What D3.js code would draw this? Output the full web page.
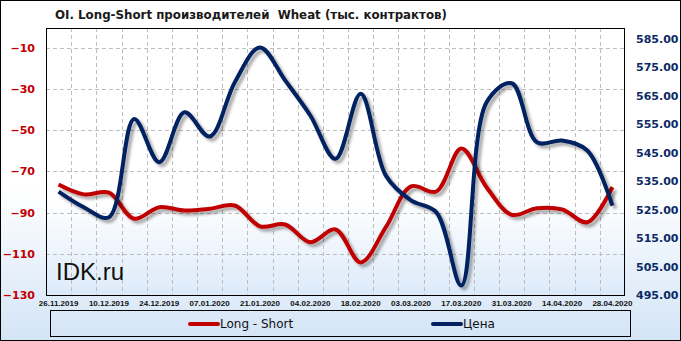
<!DOCTYPE html>
<html><head><meta charset="utf-8">
<script src="https://cdn.jsdelivr.net/npm/d3@7"></script>
<style>html,body{margin:0;padding:0;background:#fff;}svg{display:block;}</style>
</head><body>
<script>
const dates = ["26.11.2019","03.12.2019","10.12.2019","17.12.2019","24.12.2019","31.12.2019","07.01.2020","14.01.2020","21.01.2020","28.01.2020","04.02.2020","11.02.2020","18.02.2020","25.02.2020","03.03.2020","10.03.2020","17.03.2020","24.03.2020","31.03.2020","07.04.2020","14.04.2020","21.04.2020","28.04.2020"];
const longShort = [-76.4,-81.2,-80.4,-93,-87.4,-89,-88.2,-86.6,-96.7,-95.8,-104.4,-98.2,-114.2,-97.1,-77.3,-79.8,-59,-77.7,-91.1,-87.9,-88.5,-94.7,-77.7];
const price = [531.3,525.8,522.3,556.8,541.6,559.1,550.6,569.7,581.9,570.3,558,542.8,565.6,536.9,528.2,524.1,498.3,562.6,569.3,548.6,549.2,545.7,526.4];
const leftTicks = [-130,-110,-90,-70,-50,-30,-10];
const rightTicks = [495,505,515,525,535,545,555,565,575,585];
const titleText = "OI. Long-Short производителей  Wheat (тыс. контрактов)";
const seriesNames = ["Long - Short","Цена"];

const W = 681, H = 341;
const m = {l:46, r:625, t:28, b:295};
const svg = d3.select("body").append("svg").attr("width",W).attr("height",H);
const defs = svg.append("defs");
const g1 = defs.append("linearGradient").attr("id","bg").attr("x1",0).attr("y1",0).attr("x2",0).attr("y2",1);
g1.append("stop").attr("offset","0%").attr("stop-color","#ffffff");
g1.append("stop").attr("offset","55%").attr("stop-color","#ffffff");
g1.append("stop").attr("offset","100%").attr("stop-color","#d3e4f6");
const g2 = defs.append("linearGradient").attr("id","pbg").attr("x1",0).attr("y1",0).attr("x2",0).attr("y2",1);
g2.append("stop").attr("offset","0%").attr("stop-color","#ffffff");
g2.append("stop").attr("offset","65%").attr("stop-color","#ffffff");
g2.append("stop").attr("offset","100%").attr("stop-color","#dceaf9");
const f = defs.append("filter").attr("id","sh").attr("x","-10%").attr("y","-10%").attr("width","130%").attr("height","130%");
f.append("feDropShadow").attr("dx",3).attr("dy",3).attr("stdDeviation",1.6).attr("flood-color","#000").attr("flood-opacity",0.35);

svg.append("rect").attr("x",0.5).attr("y",0.5).attr("width",W-1).attr("height",H-1).attr("fill","url(#bg)").attr("stroke","#000");

svg.append("text").attr("x",55).attr("y",19).attr("font-family","DejaVu Sans").attr("font-weight","bold")
  .attr("font-size",12).attr("fill","#1a1a1a").style("white-space","pre")
  .attr("textLength",392).attr("lengthAdjust","spacingAndGlyphs").text(titleText);

const x = d3.scaleBand().domain(dates).range([m.l,m.r]).padding(0);
const yL = d3.scaleLinear().domain([-130,-0.5]).range([m.b,m.t]);
const yR = d3.scaleLinear().domain([495,588.7]).range([m.b,m.t]);

svg.append("rect").attr("x",m.l).attr("y",m.t).attr("width",m.r-m.l).attr("height",m.b-m.t).attr("fill","url(#pbg)");

// grid
const grid = svg.append("g").attr("stroke","#bdbdbd").attr("stroke-dasharray","4,3").attr("stroke-width",1);
leftTicks.filter(v=>v>-130).forEach(v=>{
  grid.append("line").attr("x1",m.l).attr("x2",m.r).attr("y1",Math.round(yL(v))+0.5).attr("y2",Math.round(yL(v))+0.5);
});
dates.slice(1).forEach(d=>{
  const xx = Math.round(x(d))+0.5;
  grid.append("line").attr("x1",xx).attr("x2",xx).attr("y1",m.t).attr("y2",m.b);
});

// axes
const axL = svg.append("g").attr("transform",`translate(${m.l},0)`)
  .call(d3.axisLeft(yL).tickValues(leftTicks).tickSize(0).tickPadding(11).tickFormat(d3.format("d")));
axL.select(".domain").remove();
axL.selectAll("text").attr("font-family","DejaVu Sans").attr("font-weight","bold").attr("font-size",11).attr("fill","#c00000");

const axR = svg.append("g").attr("transform",`translate(${m.r},0)`)
  .call(d3.axisRight(yR).tickValues(rightTicks).tickSize(0).tickPadding(11).tickFormat(d3.format(".2f")));
axR.select(".domain").remove();
axR.selectAll("text").attr("font-family","DejaVu Sans").attr("font-weight","bold").attr("font-size",11).attr("fill","#0b2a66");

const axB = svg.append("g").attr("transform",`translate(0,${m.b})`)
  .call(d3.axisBottom(x).tickValues(dates.filter((d,i)=>i%2===0)).tickSize(0).tickPadding(5));
axB.select(".domain").remove();
axB.selectAll("text").attr("font-family","Liberation Sans").attr("font-weight","bold").attr("font-size",8).attr("fill","#111");

// watermark
svg.append("text").attr("x",56).attr("y",280).attr("font-family","Liberation Sans").attr("font-size",24).attr("fill","#111").text("IDK.ru");

// lines
const cx = d => x(d)+x.bandwidth()/2;
const lineL = d3.line().x((v,i)=>cx(dates[i])).y(v=>yL(v)).curve(d3.curveCatmullRom.alpha(0.5));
const lineR = d3.line().x((v,i)=>cx(dates[i])).y(v=>yR(v)).curve(d3.curveCatmullRom.alpha(0.5));
svg.append("path").attr("d",lineL(longShort)).attr("fill","none").attr("stroke","#c00000").attr("stroke-width",4).attr("filter","url(#sh)").attr("stroke-linejoin","round");
svg.append("path").attr("d",lineR(price)).attr("fill","none").attr("stroke","#002060").attr("stroke-width",4).attr("filter","url(#sh)").attr("stroke-linejoin","round");

// plot border
svg.append("rect").attr("x",m.l+0.5).attr("y",m.t+0.5).attr("width",m.r-m.l-1).attr("height",m.b-m.t).attr("fill","none").attr("stroke","#000");

// legend
svg.append("rect").attr("x",50.5).attr("y",310.5).attr("width",580).attr("height",26).attr("fill","none").attr("stroke","#000");
const leg = [{n:seriesNames[0],c:"#c00000",x:190},{n:seriesNames[1],c:"#002060",x:433}];
leg.forEach(o=>{
  svg.append("line").attr("x1",o.x).attr("x2",o.x+28).attr("y1",324).attr("y2",324).attr("stroke",o.c).attr("stroke-width",4).attr("stroke-linecap","round");
  svg.append("text").attr("x",o.x+30).attr("y",328).attr("font-family","DejaVu Sans").attr("font-size",12).attr("fill","#111").text(o.n);
});
</script>
</body></html>
